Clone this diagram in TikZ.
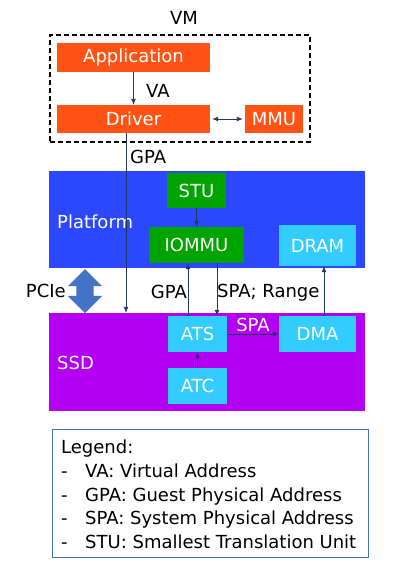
\documentclass[tikz,border=0pt]{standalone}
\usepackage{fontspec}
\setmainfont{DejaVu Sans}
\usetikzlibrary{arrows.meta,shapes.arrows}
\definecolor{vmorange}{HTML}{FF5316}
\definecolor{platblue}{HTML}{2B48FF}
\definecolor{ssdpurple}{HTML}{B300F2}
\definecolor{unitgreen}{HTML}{00A400}
\definecolor{unitcyan}{HTML}{33CCFF}
\definecolor{arrowblue}{HTML}{1F3864}
\definecolor{pciblue}{HTML}{4472C4}
\begin{document}
\begin{tikzpicture}[
                x=1pt, y=-1pt,
                every node/.style={font=\fontsize{18}{22}\selectfont, inner sep=0pt},
                box/.style={rectangle, text=white},
                area/.style={rectangle, text=white},
                arr/.style={draw=arrowblue, line width=0.9pt, -{Latex[length=6pt,width=5pt]}},
                biarr/.style={draw=arrowblue, line width=0.9pt, {Latex[length=6pt,width=5pt]}-{Latex[length=6pt,width=5pt]}},
                pcie/.style={double arrow, fill=pciblue, rotate=90, inner xsep=0pt, inner ysep=8.5pt, minimum height=44, minimum width=34, double arrow head extend=8.5},
                legend/.style={draw=pciblue, line width=1pt}
            ]

            \useasboundingbox (0,0) rectangle (415,568);

            % VM
            \node[draw, dashed, line width=1.5pt, dash pattern=on 5pt off 3pt, minimum width=260, minimum height=107] (vm) at (180,88.5) {};
            \node (vmlbl) at (184,18) {VM};
            \node[box, fill=vmorange, minimum width=153, minimum height=29] (app) at (133.5,57.5) {Application};
            \node[box, fill=vmorange, minimum width=153, minimum height=28] (drv) at (133.5,119) {Driver};
            \node[box, fill=vmorange, minimum width=58, minimum height=28] (mmu) at (274,119) {MMU};

            % platform and SSD
            \node[area, fill=platblue, minimum width=316, minimum height=97] (plat) at (207,219.5) {};
            \node[area, fill=ssdpurple, minimum width=316, minimum height=98] (ssd) at (207,362) {};
            \node[anchor=west, text=white] (platlbl) at (57,222) {Platform};
            \node[anchor=west, text=white] (ssdlbl) at (57,363) {SSD};

            \node[box, fill=unitgreen, minimum width=59, minimum height=35] (stu) at (196.5,190.5) {STU};
            \node[box, fill=unitgreen, minimum width=95, minimum height=36] (iommu) at (196.5,245) {IOMMU};
            \node[box, fill=unitcyan, minimum width=77, minimum height=41] (dram) at (317.5,245.5) {DRAM};
            \node[box, fill=unitcyan, minimum width=59, minimum height=36] (ats) at (197.5,334) {ATS};
            \node[box, fill=unitcyan, minimum width=77, minimum height=36] (dma) at (317.5,334) {DMA};
            \node[box, fill=unitcyan, minimum width=59, minimum height=36] (atc) at (197.5,386) {ATC};

            % PCIe link
            \node[pcie] (link) at (85,291) {};
            \node[anchor=east] (linklbl) at (66,291) {PCIe};

            % connectors
            \draw[arr] (app) -- (drv);
            \node[anchor=west] (va) at (146,91) {VA};
            \draw[biarr, shorten <=2pt, shorten >=2pt] (drv) -- (mmu);
            \draw[arr] ([xshift=-7.5pt]drv.south) -- ([xshift=-7.5pt]drv.south |- ssd.north);
            \node[anchor=west] (gpa) at (130,157) {GPA};
            \draw[arr] (stu) -- (iommu);
            \draw[arr] ([xshift=-9.5pt]ats.north) -- ([xshift=-9.5pt]ats.north |- iommu.south);
            \node[anchor=east] (gpaup) at (187,292) {GPA};
            \draw[arr] ([xshift=19.5pt]ats.north |- iommu.south) -- ([xshift=19.5pt]ats.north);
            \node[anchor=west] (sparange) at (217,293) {SPA; Range};
            \draw[arr] ([xshift=6.5pt]dma.north) -- ([xshift=6.5pt]dma.north |- dram.south);
            \draw[arr] (ats) -- (dma);
            \node[text=white] (spa) at (253,325) {SPA};
            \draw[arr] (atc) -- (ats);

            % legend
            \node[legend, anchor=north west, minimum width=316, minimum height=128] (leg) at (52,429) {};
            \node[anchor=north west, align=left, font=\fontsize{18}{23.6}\selectfont] (legtext) at (61,440) {Legend:\\
                \makebox[24pt][l]{-}VA: Virtual Address\\
                \makebox[24pt][l]{-}GPA: Guest Physical Address\\
                \makebox[24pt][l]{-}SPA: System Physical Address\\
                \makebox[24pt][l]{-}STU: Smallest Translation Unit};

        \end{tikzpicture}
\end{document}
